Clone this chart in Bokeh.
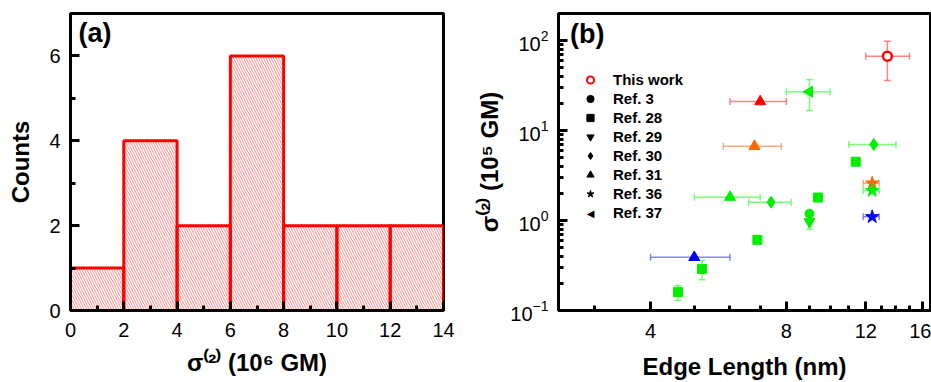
import math
import numpy as np
from bokeh.plotting import figure
from bokeh.models import (ColumnDataSource, Whisker, TeeHead, Legend, LegendItem, Label,
                          FixedTicker, PrintfTickFormatter, LogTickFormatter)
from bokeh.layouts import row
from bokeh.embed import file_html
from bokeh.resources import INLINE

FONT = "Liberation Sans"

# ---------------- Panel (a): histogram ----------------
bin_left = [0, 2, 4, 6, 8, 10, 12]
bin_right = [2, 4, 6, 8, 10, 12, 14]
counts = [1, 4, 2, 6, 2, 2, 2]
a_xticks = [0, 2, 4, 6, 8, 10, 12, 14]
a_xminor = [1, 3, 5, 7, 9, 11, 13]
a_yticks = [0, 2, 4, 6]
a_yminor = [1, 3, 5]

# ---------------- Panel (b): scatter ----------------
pt_ref = ["This work", "Ref. 31", "Ref. 37", "Ref. 31", "Ref. 30", "Ref. 28",
          "Ref. 36", "Ref. 36", "Ref. 36", "Ref. 31", "Ref. 30", "Ref. 28",
          "Ref. 3", "Ref. 29", "Ref. 28", "Ref. 31", "Ref. 28", "Ref. 28"]
pt_x = [13.4, 7.0, 9.0, 6.8, 12.5, 11.4, 12.4, 12.4, 12.4, 6.0, 7.4, 9.4,
        9.0, 9.0, 6.9, 5.0, 5.2, 4.6]
pt_y = [67, 21, 27, 6.7, 7.0, 4.5, 2.6, 2.15, 1.1, 1.82, 1.6, 1.8,
        1.19, 0.97, 0.61, 0.39, 0.29, 0.16]
pt_xlo = [12.0, 6.0, 8.0, 5.8, 11.0, None, 11.85, 11.85, 11.85, 5.0, 6.6, None,
          None, None, None, 4.0, None, None]
pt_xhi = [15.0, 8.0, 10.0, 7.8, 14.0, None, 12.85, 12.85, 12.85, 7.0, 8.2, None,
          None, None, None, 6.0, None, None]
pt_ylo = [36, None, 16.7, None, None, 4.2, None, None, None, None, None, 1.65,
          None, 0.8, None, None, 0.22, 0.13]
pt_yhi = [98, None, 37, None, None, 4.8, None, None, None, None, None, 1.95,
          None, 1.12, None, None, 0.36, 0.19]
pt_color = ["red", "red", "green", "orange", "green", "green",
            "orange", "green", "blue", "green", "green", "green",
            "green", "green", "green", "blue", "green", "green"]

legend_labels = ["This work", "Ref. 3", "Ref. 28", "Ref. 29", "Ref. 30", "Ref. 31", "Ref. 36", "Ref. 37"]
b_xticks = [4, 8, 12, 16]
b_xminor = [3, 5, 6, 7, 9, 10, 11, 13, 14, 15]
b_yticks = [0.1, 1, 10, 100]

COLORS = {"red": "#ff0000", "orange": "#ff6600", "green": "#00ee00", "blue": "#0000ff"}
ERRCOL = {"red": "#ff6666", "orange": "#ff9955", "green": "#55ff55", "blue": "#6666ff"}
MARKER = {"This work": "circle", "Ref. 3": "circle", "Ref. 28": "square",
          "Ref. 29": "inverted_triangle", "Ref. 30": "diamond", "Ref. 31": "triangle",
          "Ref. 36": "star", "Ref. 37": "triangle"}
ANGLE = {"Ref. 37": math.pi / 2}
SIZE = {"This work": 9, "Ref. 3": 9, "Ref. 28": 9, "Ref. 29": 11, "Ref. 30": 12,
        "Ref. 31": 11, "Ref. 36": 14, "Ref. 37": 11}


def style_axes(p):
    for ax in list(p.xaxis) + list(p.yaxis):
        ax.axis_line_width = 3
        ax.axis_line_color = "black"
        ax.major_tick_line_width = 3
        ax.minor_tick_line_width = 3
        ax.major_tick_line_color = "black"
        ax.minor_tick_line_color = "black"
        ax.major_tick_in = 9
        ax.major_tick_out = 0
        ax.minor_tick_in = 5
        ax.minor_tick_out = 0
        ax.major_label_text_font = FONT
        ax.major_label_text_font_size = "20px"
        ax.major_label_text_color = "black"
        ax.axis_label_text_font = FONT
        ax.axis_label_text_font_style = "bold"
        ax.axis_label_text_font_size = "24px"
        ax.axis_label_text_color = "black"
        ax.major_label_standoff = 10
    p.xgrid.visible = False
    p.ygrid.visible = False
    p.outline_line_color = "black"
    p.outline_line_width = 3
    p.outline_line_alpha = 1


# ---- figure a
pa = figure(width=470, height=382, x_range=(0, 14), y_range=(0, 7),
            output_backend="svg", toolbar_location=None,
            min_border_left=70, min_border_right=27, min_border_top=13, min_border_bottom=70)
pa.quad(left=bin_left, right=bin_right, bottom=0, top=counts,
        fill_color="white", fill_alpha=0, line_color="#ff0000", line_width=3,
        hatch_pattern="\\", hatch_color="#ff4040", hatch_alpha=0.6,
        hatch_scale=5, hatch_weight=1)
pa.xaxis.ticker = FixedTicker(ticks=a_xticks, minor_ticks=a_xminor)
pa.yaxis.ticker = FixedTicker(ticks=a_yticks, minor_ticks=a_yminor)
pa.xaxis.axis_label = "σ⁽²⁾ (10⁶ GM)"
pa.yaxis.axis_label = "Counts"
style_axes(pa)
pa.xaxis.major_label_standoff = 12
pa.xaxis.axis_label_standoff = 9
pa.yaxis.axis_label_standoff = 12
pa.add_layout(Label(x=0.3, y=6.9, text="(a)", text_font=FONT, text_font_style="bold",
                    text_font_size="27px", text_baseline="top", text_color="black"))

# ---- figure b
pb = figure(width=461, height=382, x_axis_type="log", y_axis_type="log",
            x_range=(2.5, 16.7), y_range=(0.1, 200),
            output_backend="svg", toolbar_location=None,
            min_border_left=88, min_border_right=1, min_border_top=13, min_border_bottom=69)
pb.xaxis.ticker = FixedTicker(ticks=b_xticks, minor_ticks=b_xminor)
pb.xaxis.formatter = PrintfTickFormatter(format="%d")
b_yminor = [m * t for t in b_yticks[:-1] for m in range(2, 10)] + [200]
pb.yaxis.ticker = FixedTicker(ticks=b_yticks, minor_ticks=b_yminor)
pb.yaxis.formatter = LogTickFormatter()
pb.xaxis.axis_label = "Edge Length (nm)"
pb.yaxis.axis_label = "σ⁽²⁾ (10⁵ GM)"
style_axes(pb)
pb.xaxis.major_label_standoff = 13
pb.xaxis.axis_label_standoff = 12
pb.yaxis.axis_label_standoff = 4

n = len(pt_x)
# error bars
for col in COLORS:
    xi = [i for i in range(n) if pt_color[i] == col and pt_xlo[i] is not None]
    yi = [i for i in range(n) if pt_color[i] == col and pt_ylo[i] is not None]
    head = dict(size=7, line_color=ERRCOL[col], line_width=1.5, line_alpha=0.8)
    if xi:
        src = ColumnDataSource(dict(y=[pt_y[i] for i in xi], lo=[pt_xlo[i] for i in xi],
                                    hi=[pt_xhi[i] for i in xi]))
        pb.add_layout(Whisker(source=src, base="y", lower="lo", upper="hi", dimension="width",
                              line_color=ERRCOL[col], line_width=1.5, line_alpha=0.8,
                              upper_head=TeeHead(**head), lower_head=TeeHead(**head)))
    if yi:
        src = ColumnDataSource(dict(x=[pt_x[i] for i in yi], lo=[pt_ylo[i] for i in yi],
                                    hi=[pt_yhi[i] for i in yi]))
        pb.add_layout(Whisker(source=src, base="x", lower="lo", upper="hi", dimension="height",
                              line_color=ERRCOL[col], line_width=1.5, line_alpha=0.8,
                              upper_head=TeeHead(**head), lower_head=TeeHead(**head)))

# markers
for ref in legend_labels:
    for col in COLORS:
        idx = [i for i in range(n) if pt_ref[i] == ref and pt_color[i] == col]
        if not idx:
            continue
        src = ColumnDataSource(dict(x=[pt_x[i] for i in idx], y=[pt_y[i] for i in idx]))
        if ref == "This work":
            pb.scatter("x", "y", source=src, marker="circle", size=SIZE[ref],
                       fill_color="white", line_color=COLORS[col], line_width=2.5)
        else:
            pb.scatter("x", "y", source=src, marker=MARKER[ref], size=SIZE[ref],
                       angle=ANGLE.get(ref, 0.0),
                       fill_color=COLORS[col], line_color=COLORS[col])

# legend (black symbols; renderers hold no visible point)
items = []
for ref in legend_labels:
    hidden = ColumnDataSource(dict(x=[np.nan], y=[np.nan]))
    if ref == "This work":
        r = pb.scatter("x", "y", source=hidden, marker="circle",
                       fill_color="white", line_color="#ff0000", line_width=2)
    elif ref in ANGLE:
        # rotated symbol: the legend cannot rotate markers, a text symbol is drawn instead
        r = pb.scatter("x", "y", source=hidden, marker="circle", fill_alpha=0, line_alpha=0)
    else:
        r = pb.scatter("x", "y", source=hidden, marker=MARKER[ref],
                       fill_color="black", line_color="black")
    items.append(LegendItem(label=ref, renderers=[r], index=0))
LEG_X, LEG_Y, ROW_H, GW = 23, 88, 19, 18
legend = Legend(items=items, location=(LEG_X, LEG_Y), glyph_width=GW, glyph_height=ROW_H,
                label_height=ROW_H, spacing=0, padding=0, margin=0, label_standoff=14,
                label_text_font=FONT, label_text_font_style="bold",
                label_text_font_size="15px", label_text_color="black",
                border_line_color=None, background_fill_alpha=0)
pb.add_layout(legend)
pb.add_layout(Label(x=LEG_X + GW / 2, y=LEG_Y + ROW_H / 2, x_units="screen", y_units="screen",
                    text="◀", text_font="DejaVu Sans",
                    text_font_size="10px", text_align="center", text_baseline="middle",
                    text_color="black"))

pb.add_layout(Label(x=2.65, y=175, text="(b)", text_font=FONT, text_font_style="bold",
                    text_font_size="27px", text_baseline="top", text_color="black"))

layout = row(pa, pb)
open("out.html", "w").write(file_html(layout, INLINE))
